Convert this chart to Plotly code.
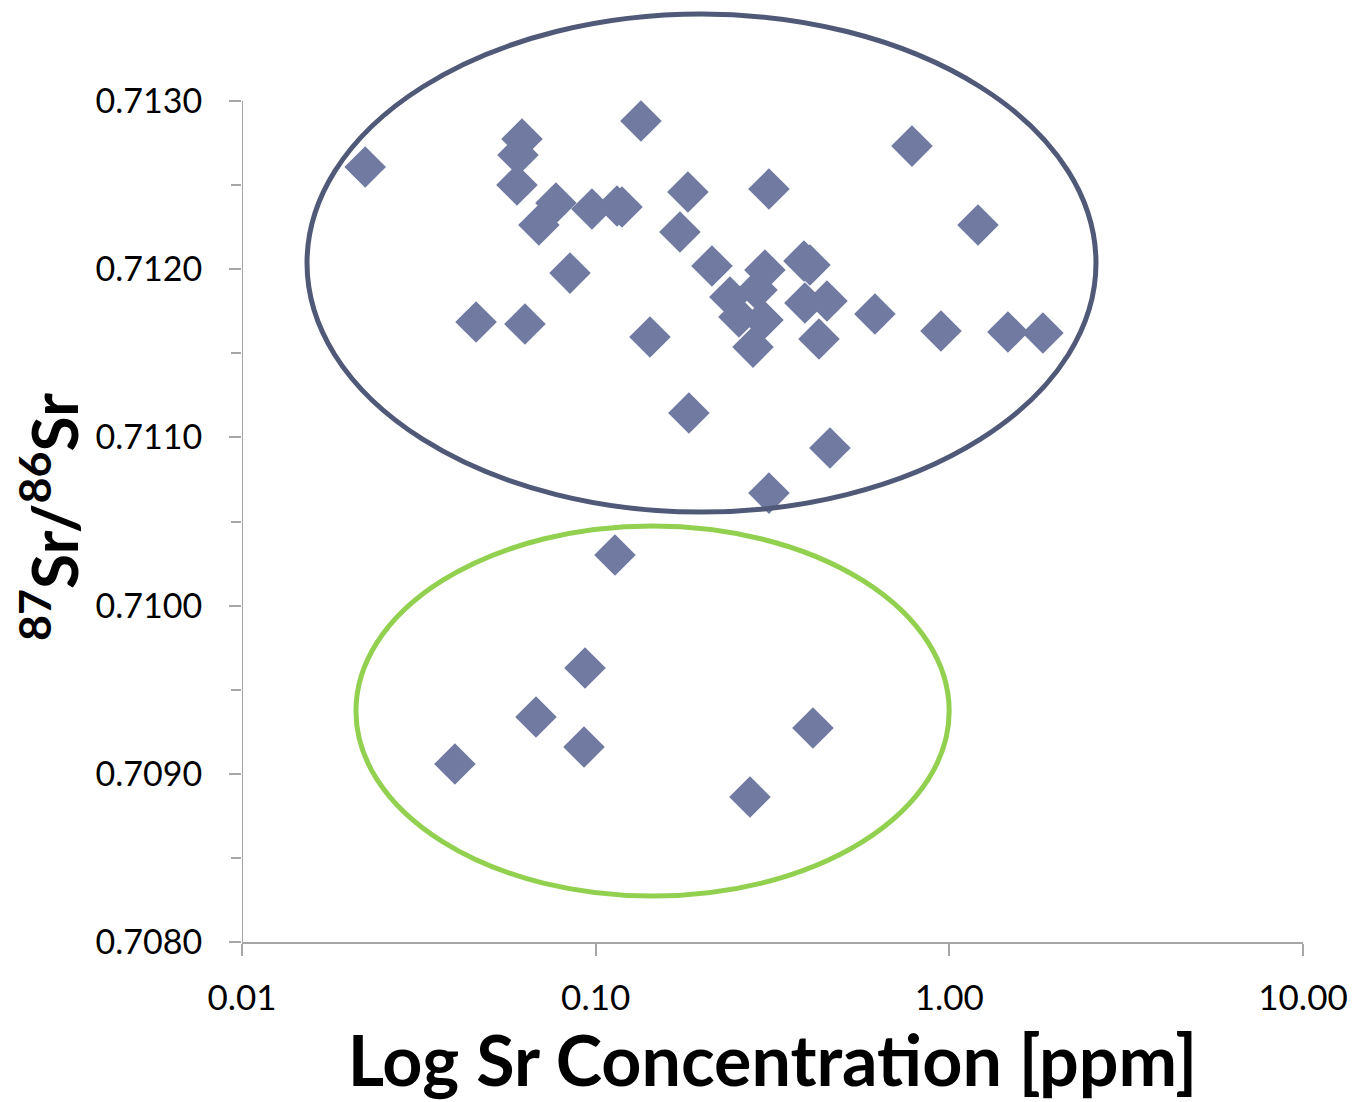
import plotly.graph_objects as go

# Sr concentration [ppm] and 87Sr/86Sr ratio
sr_ppm = [0.0223, 0.0619, 0.0603, 0.0599, 0.1343, 0.0772, 0.0691, 0.0976, 0.1149, 0.1187,
          0.1823, 0.1731, 0.0846, 0.0459, 0.0631, 0.1424, 0.784, 0.309, 1.205, 0.2132,
          0.301, 0.388, 0.4036, 0.2397, 0.2542, 0.2858, 0.2972, 0.2785, 0.3905, 0.4508,
          0.428, 0.616, 0.947, 1.464, 1.839, 0.1835, 0.4596, 0.309,
          0.1134, 0.0933, 0.0678, 0.0927, 0.0400, 0.4115, 0.2731]
sr_ratio = [0.712608, 0.712774, 0.712679, 0.712501, 0.712881, 0.712394, 0.712263, 0.712358, 0.712376, 0.712370,
            0.712459, 0.712221, 0.711977, 0.711686, 0.711674, 0.711597, 0.712732, 0.712477, 0.712263, 0.712019,
            0.711995, 0.712049, 0.712025, 0.711835, 0.711716, 0.711876, 0.711698, 0.711537, 0.711799, 0.711811,
            0.711585, 0.711734, 0.711633, 0.711627, 0.711621, 0.711145, 0.710937, 0.710669,
            0.710301, 0.709629, 0.709338, 0.709159, 0.709058, 0.709272, 0.708862]

x_tickvals = [0.01, 0.1, 1, 10]
x_ticktext = ["0.01", "0.10", "1.00", "10.00"]
y_tickvals = [0.7080, 0.7090, 0.7100, 0.7110, 0.7120, 0.7130]
y_ticktext = ["0.7080", "0.7090", "0.7100", "0.7110", "0.7120", "0.7130"]
y_minor = [0.7085, 0.7095, 0.7105, 0.7115, 0.7125]

# group outlines (x in ppm, y in ratio)
upper_group = dict(x0=0.01527, x1=2.598, y0=0.710556, y1=0.713517)
lower_group = dict(x0=0.0210, x1=0.999, y0=0.708273, y1=0.710473)

FONT = "Lato"
AXIS_GREY = "#A6A6A6"

fig = go.Figure()
fig.add_trace(go.Scatter(
    x=sr_ppm, y=sr_ratio, mode="markers",
    marker=dict(symbol="diamond", size=32, color="#717BA1", line=dict(width=0)),
    showlegend=False, cliponaxis=False,
))

fig.add_shape(type="circle", xref="x", yref="y", **upper_group,
              line=dict(color="#505A78", width=5), layer="above")
fig.add_shape(type="circle", xref="x", yref="y", **lower_group,
              line=dict(color="#92D050", width=5), layer="above")
# y axis line (stops at top tick)
fig.add_shape(type="line", xref="x", yref="y", x0=0.01, x1=0.01,
              y0=y_tickvals[0], y1=y_tickvals[-1],
              line=dict(color=AXIS_GREY, width=2), layer="below")

fig.update_layout(
    width=1348, height=1094,
    margin=dict(l=234, r=53, t=0, b=160),
    paper_bgcolor="white", plot_bgcolor="white",
    font=dict(family=FONT, color="black"),
    xaxis=dict(
        type="log", range=[-2, 1], tickvals=x_tickvals, ticktext=x_ticktext,
        showgrid=False, zeroline=False, showline=True, linecolor=AXIS_GREY, linewidth=2,
        ticks="outside", ticklen=12, tickcolor=AXIS_GREY, tickwidth=2,
        tickfont=dict(size=35, family=FONT), ticklabelstandoff=12,
        title=dict(text="<b>Log Sr Concentration [ppm]</b>", font=dict(size=70, family=FONT), standoff=21),
    ),
    yaxis=dict(
        range=[0.7080, 0.713553], tickvals=y_tickvals, ticktext=y_ticktext,
        showgrid=False, zeroline=False, showline=False,
        ticks="outside", ticklen=12, tickcolor=AXIS_GREY, tickwidth=2,
        minor=dict(tickvals=y_minor, ticks="outside",
                   ticklen=10, tickcolor=AXIS_GREY, tickwidth=2),
        tickfont=dict(size=34, family=FONT), ticklabelstandoff=20,
    ),
    annotations=[dict(
        text="<b><sup>87</sup>Sr/<sup>86</sup>Sr</b>", xref="paper", yref="paper",
        x=-0.182, y=0.455, xanchor="center", yanchor="middle", textangle=-90,
        showarrow=False, font=dict(size=64, family=FONT, color="black"),
    )],
)

fig.write_html("out.html")
